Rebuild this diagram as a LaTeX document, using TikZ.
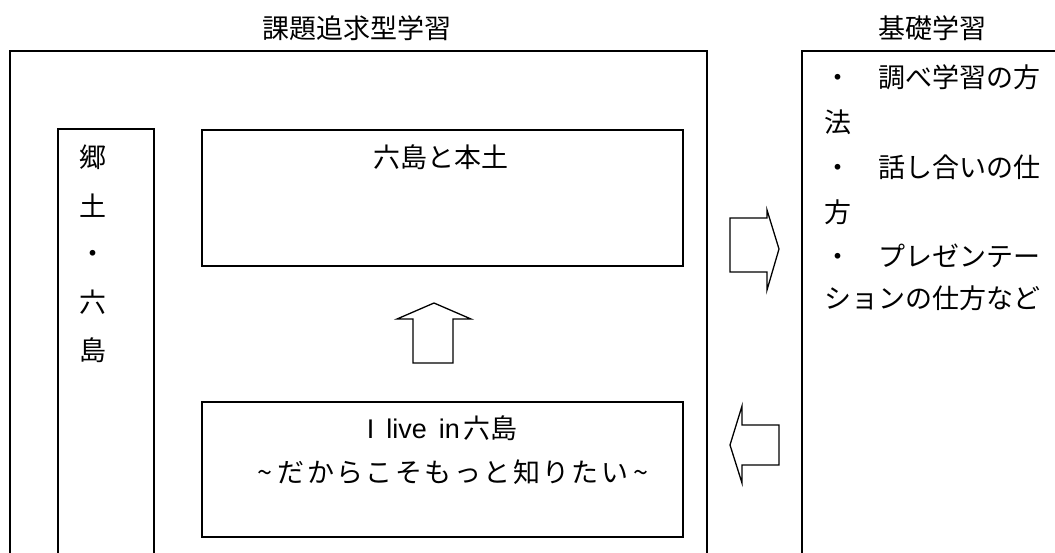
\documentclass[tikz,border=0pt]{standalone}
\usepackage{fontspec}
\setmainfont{Noto Sans CJK JP}
\newfontfamily\jpwide[LetterSpace=9]{Noto Sans CJK JP}
\newfontfamily\latfont[WordSpace=1.6]{Liberation Sans}
\newcommand{\mytilde}{\makebox[25pt]{\textasciitilde}}
\begin{document}
\begin{tikzpicture}[x=1pt,y=-1pt,line width=1.3pt,
  txt/.style={font=\fontsize{27}{27}\selectfont,inner sep=0pt,text height=23.8pt,text depth=3.2pt},
  box/.style={draw,rectangle,inner sep=0pt},
  hollow/.style={draw,line join=miter}]
\useasboundingbox (0,0) rectangle (1055,552);
\begin{scope}
\clip (0,0) rectangle (1055,552);
% open frames cut off at the bottom
\draw (10,600) coordinate (o1) |- (707,51) coordinate (o2) -- (707,600);
\draw (802,600) coordinate (r1) |- (1100,51) coordinate (r2);
\draw (58,600) coordinate (c1) |- (154,129) coordinate (c2) -- (154,600);
% inner boxes
\node[box,minimum width=481pt,minimum height=136pt] (topbox) at (442.5,198) {};
\node[box,minimum width=481pt,minimum height=135pt] (botbox) at (442.5,469.5) {};
% hollow arrows
\draw[hollow] (413,363) -- (413,319) -- (397,319) -- (434,303) -- (471,319) -- (453,319) -- (453,363) -- cycle;
\draw[hollow] (730,218) -- (767,218) -- (767,210) -- (779,249) -- (767,290) -- (767,272) -- (730,272) -- cycle;
\draw[hollow] (779,425) -- (742,425) -- (742,406) -- (730,445) -- (742,483) -- (742,465) -- (779,465) -- cycle;
\end{scope}
% titles
\node[txt] (t1) at (357,28) {課題追求型学習};
\node[txt] (t2) at (932,28) {基礎学習};
% left column
\node[txt] (k1) at (93,157) {郷};
\node[txt] (k2) at (93,206) {土};
\node[txt] (k3) at (93,253) {・};
\node[txt] (k4) at (93,302) {六};
\node[txt] (k5) at (93,350) {島};
% inner texts
\node[txt] (tb) at (441,157) {六島と本土};
\node[txt] (bb1) at (442,428) {{\latfont I live in}\hspace{3pt}六島};
\node[txt,anchor=west] (bb2) at (252,472) {\jpwide\mytilde だからこそもっと知りたい\mytilde};
% right box text
\node[txt,anchor=west] (r1t) at (824,77) {・　調べ学習の方};
\node[txt,anchor=west] (r2t) at (824,122) {法};
\node[txt,anchor=west] (r3t) at (824,167) {・　話し合いの仕};
\node[txt,anchor=west] (r4t) at (824,212) {方};
\node[txt,anchor=west] (r5t) at (824,256) {・　プレゼンテー};
\node[txt,anchor=west] (r6t) at (824,298) {ションの仕方など};
\end{tikzpicture}
\end{document}
